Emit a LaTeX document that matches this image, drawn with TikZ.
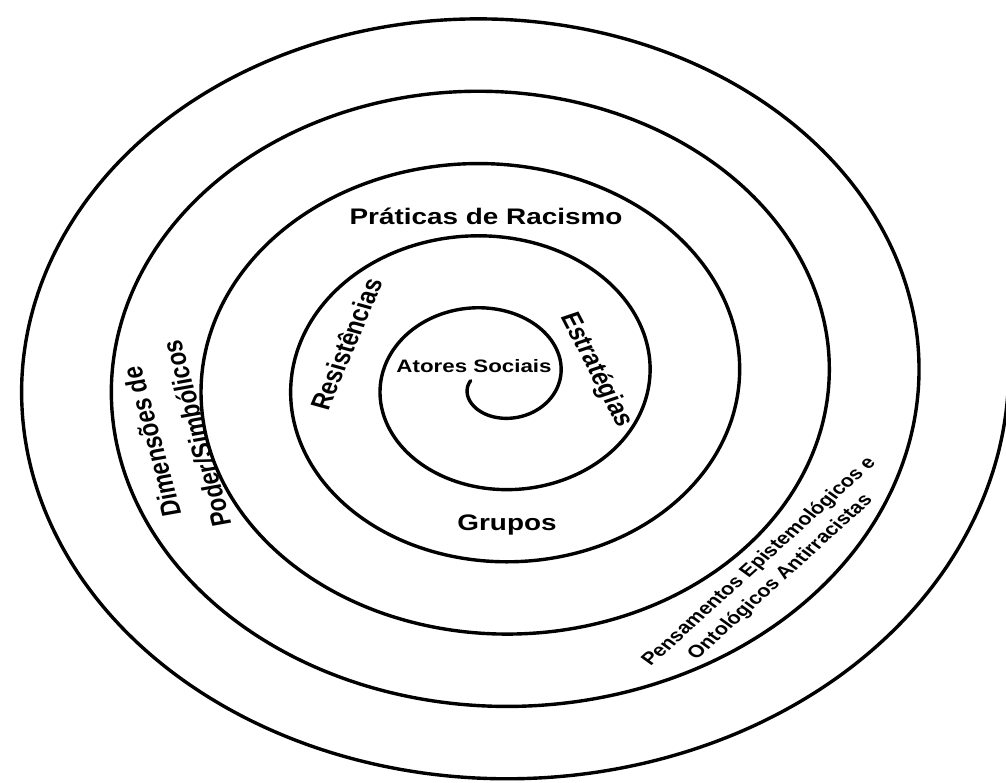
\documentclass[tikz,border=0pt]{standalone}
\usepackage{fontspec}
\setmainfont{Liberation Sans}
\tikzset{
  spiralline/.style={line width=3.4pt, black, line cap=round},
  biglbl/.style={font=\bfseries\fontsize{22.5}{34}\selectfont, inner sep=0pt, align=center},
  dimlbl/.style={font=\bfseries\fontsize{22.5}{37}\selectfont, inner sep=0pt, align=center},
  smalllbl/.style={font=\bfseries\fontsize{18}{24.5}\selectfont, inner sep=0pt, align=center},
  pensalbl/.style={font=\bfseries\fontsize{17.5}{23}\selectfont, inner sep=0pt, align=center}
}
\begin{document}
\begin{tikzpicture}[x=1pt,y=1pt]
\useasboundingbox (0,0) rectangle (1006,782);
\clip (0,0) rectangle (1006,782);
\fill[white] (0,0) rectangle (1006,782);
\begin{scope}[shift={(492.75,401.25)}, xscale=1.24, transform shape]
  \draw[spiralline] plot[domain=-1:10.01, samples=700, smooth, variable=\t]
    ({(54+36.2*\t)*cos(180*\t)}, {(54+36.2*\t)*sin(180*\t)});
  \node[biglbl] (praticas) at (-5.4,164.75) {Práticas de Racismo};
  \node[biglbl] (grupos) at (11.5,-144.25) {Grupos};
  \node[smalllbl] (atores) at (-15.1,14.75) {Atores Sociais};
  \node[biglbl, rotate=71] (resist) at (-118.3,36.75) {Resistências};
  \node[biglbl, rotate=-67.3] (estrat) at (83.3,10.75) {Estratégias};
  \node[dimlbl, rotate=102.5] (dimensoes) at (-257,-57) {Dimensões de\\Poder/Simbólicos};
  \node[pensalbl, rotate=48.2] (pensamentos) at (223.5,-189) {Pensamentos Epistemológicos e\\Ontológicos Antirracistas};
\end{scope}
\end{tikzpicture}
\end{document}
